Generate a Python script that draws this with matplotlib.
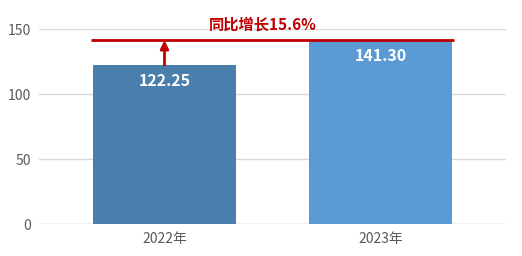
import matplotlib
matplotlib.use('Agg')
import matplotlib.pyplot as plt

plt.rcParams['font.family'] = ['Noto Sans CJK SC', 'DejaVu Sans']

years = ['2022年', '2023年']
values = [122.25, 141.30]
colors = ['#4a7ead', '#5b9bd5']
growth_label = '同比增长15.6%'

fig = plt.figure(figsize=(5.22, 2.56), dpi=100)
ax = fig.add_axes([0.0747, 0.125, 0.8946, 0.7617])

x = list(range(len(years)))
ax.bar(x, values, width=0.662, color=colors, zorder=2)

for xi, v in zip(x, values):
    ax.text(xi, v - 12, f'{v:.2f}', ha='center', va='center', color='white',
            fontsize=11.5, fontweight='bold', zorder=3)

# growth marker line + arrow
ax.plot([-0.34, 1.34], [values[1], values[1]], color='#c00000', lw=2,
        zorder=4, clip_on=False, solid_capstyle='butt')
ax.annotate('', xy=(0, values[1]), xytext=(0, values[0]),
            arrowprops=dict(arrowstyle='-|>', color='#c00000', lw=2,
                            mutation_scale=12, shrinkA=0, shrinkB=0), zorder=4)
ax.text(0.455, values[1] + 12.5, growth_label, ha='center', va='center',
        color='#c00000', fontsize=11, fontweight='bold', clip_on=False)

ax.set_xlim(-0.581, 1.581)
ax.set_ylim(0, 150)
ax.set_yticks([0, 50, 100, 150])
ax.set_xticks(x)
ax.set_xticklabels(years)
ax.grid(axis='y', color='#d9d9d9', lw=1, zorder=0)
ax.tick_params(axis='both', length=0, labelsize=10, colors='#595959', pad=6)
for s in ax.spines.values():
    s.set_visible(False)
ax.axhline(0, color='#d9d9d9', lw=1, zorder=1)

fig.savefig('out.png', dpi=100)
